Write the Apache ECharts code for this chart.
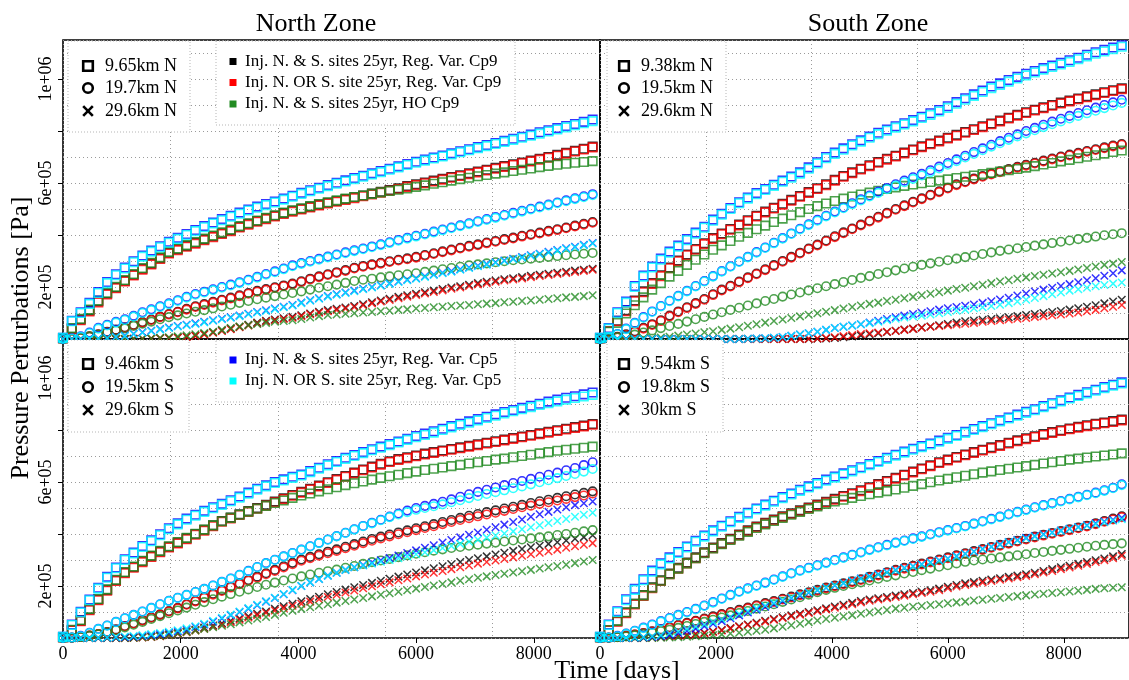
<!DOCTYPE html>
<html><head><meta charset="utf-8">
<script src="https://cdn.jsdelivr.net/npm/echarts@6/dist/echarts.min.js"></script>
<style>html,body{margin:0;padding:0;background:#fff}#c{width:1129px;height:680px}</style>
</head><body><div id="c"></div>
<script>
// ---- time axis (days) ----
const days = [0,150,300,450,600,750,900,1050,1200,1350,1500,1650,1800,1950,2100,2250,2400,2550,2700,2850,3000,3150,3300,3450,3600,3750,3900,4050,4200,4350,4500,4650,4800,4950,5100,5250,5400,5550,5700,5850,6000,6150,6300,6450,6600,6750,6900,7050,7200,7350,7500,7650,7800,7950,8100,8250,8400,8550,8700,8850,9000];

// ---- values in kPa (1e3 Pa) ----
// North Zone, N distances (top-left)
const tl_k_sq = [3,40,75,110,145,175,198,224,247,270,290,311,332,345,358,370,383,395,407,418,432,443,454,464,474,484,493,501,509,517,524,531,538,545,552,559,566,573,580,588,595,602,609,616,623,630,637,644,651,658,665,672,679,686,693,700,708,716,724,732,740];
const tl_r_sq = [3,38,72,106,141,171,195,221,244,267,287,308,329,342,355,367,380,392,404,415,429,440,451,461,471,481,490,498,506,514,521,528,535,542,549,556,563,570,577,585,592,599,606,613,620,627,634,641,648,655,662,669,676,683,690,697,705,713,721,729,737];
const tl_g_sq = [3,42,78,113,148,178,201,227,250,273,293,314,335,348,361,373,386,398,410,421,434,445,456,466,476,486,495,503,511,519,526,533,540,546,552,558,564,569,574,579,585,591,597,603,609,615,620,626,631,636,641,646,651,656,661,666,670,674,678,681,684];
const tl_b_sq = [5,70,103,139,181,219,249,275,299,321,340,357,374,389,404,419,434,448,461,474,486,498,509,519,529,540,551,562,572,582,592,601,610,619,628,637,646,655,664,673,682,690,698,706,714,722,730,738,746,754,762,770,778,786,795,803,811,819,827,835,844];
const tl_c_sq = [5,68,100,135,177,215,245,271,295,317,336,353,370,385,400,415,430,444,457,470,482,494,505,515,525,536,547,558,568,578,588,597,606,615,624,633,642,651,660,669,678,686,694,702,710,718,726,734,742,750,758,766,774,782,790,798,806,814,822,830,838];
const tl_k_ci = [0,1,4,10,18,28,36,45,55,65,75,86,96,105,116,126,134,143,151,159,168,177,185,192,199,206,213,222,232,241,249,257,265,274,281,287,293,299,305,310,316,323,330,337,344,351,358,364,371,377,384,390,397,403,409,416,422,429,436,443,450];
const tl_r_ci = [0,1,4,9,17,26,34,43,53,63,73,84,94,103,113,123,131,140,148,156,165,174,182,189,196,203,210,219,229,238,246,254,262,271,278,284,290,296,302,307,313,320,327,334,341,348,355,361,368,374,381,387,394,400,406,413,419,426,433,440,447];
const tl_g_ci = [0,1,4,9,16,25,33,41,50,59,67,76,84,91,98,105,111,118,125,132,139,146,153,159,165,171,177,183,190,197,203,209,216,223,228,232,237,241,245,249,253,258,263,268,273,278,283,287,291,295,299,303,306,309,312,316,319,322,325,328,331];
const tl_b_ci = [0,3,10,25,43,55,66,76,89,103,114,126,137,149,162,173,182,191,200,209,218,228,239,250,260,271,283,292,300,308,317,325,333,341,348,356,364,372,381,389,397,405,413,421,429,437,445,453,461,469,477,485,493,501,509,517,525,533,541,549,557];
const tl_c_ci = [0,2,8,22,40,52,63,73,86,100,111,123,134,146,159,170,179,188,197,206,215,225,236,247,257,268,280,289,297,305,314,322,330,338,345,353,361,369,378,386,394,402,410,418,426,434,442,450,458,466,474,482,490,498,506,514,522,530,538,545,553];
const tl_k_x = [0,0,0,0,0,0,0,0,1,1,2,3,4,6,9,13,19,26,33,40,47,55,63,70,75,80,85,91,98,105,111,116,121,127,134,141,148,155,162,168,174,180,186,192,198,203,209,215,220,225,230,234,238,243,247,251,255,259,263,266,270];
const tl_r_x = [0,0,0,0,0,0,0,0,1,1,2,3,4,5,8,12,17,24,31,38,45,52,60,67,72,77,82,88,95,101,107,112,117,123,130,137,144,150,157,163,169,175,181,187,193,198,204,210,215,220,225,229,233,238,242,246,250,254,258,262,266];
const tl_g_x = [0,0,0,0,0,0,0,0,0,1,2,4,7,10,14,18,23,28,35,42,48,53,58,62,66,69,72,77,83,88,92,94,97,99,102,104,107,109,112,114,117,119,122,124,127,129,131,134,136,138,141,143,146,148,151,154,157,160,162,165,168];
const tl_b_x = [0,0,0,1,2,5,9,13,20,26,32,38,44,50,55,60,66,72,78,84,90,97,104,110,117,124,131,140,149,157,165,172,179,186,193,200,207,214,221,228,234,241,248,255,261,268,275,282,288,295,302,309,315,322,328,335,342,349,355,362,369];
const tl_c_x = [0,0,0,1,2,4,8,11,18,24,30,36,42,48,53,58,64,70,76,82,88,95,102,108,115,122,129,138,147,155,163,170,177,184,191,198,205,212,219,226,232,239,246,253,259,266,273,280,286,293,300,307,313,320,326,333,340,347,353,360,367];

// South Zone, N distances (top-right)
const tr_k_sq = [3,30,70,110,148,183,215,245,275,302,325,346,368,388,406,423,440,457,474,490,505,520,535,550,565,580,595,612,627,641,655,668,681,693,705,717,729,741,752,763,774,785,796,807,818,829,840,851,862,872,882,891,900,909,917,925,933,941,949,957,964];
const tr_r_sq = [3,29,68,107,145,180,212,242,272,299,322,343,365,385,403,420,437,454,471,487,502,517,532,547,562,577,592,609,624,638,652,665,678,690,702,714,726,738,749,760,771,782,793,804,815,826,837,848,859,869,879,888,897,906,914,922,930,938,946,954,961];
const tr_g_sq = [3,28,62,98,130,160,190,215,240,262,285,305,325,343,360,377,393,408,422,436,450,463,476,488,500,511,521,531,540,548,556,563,570,577,583,589,594,599,604,609,614,619,624,629,634,639,644,649,654,659,665,671,677,683,689,695,701,707,713,719,725];
const tr_b_sq = [5,42,103,144,204,244,279,309,336,359,384,409,432,459,482,504,526,544,561,577,593,609,625,641,660,680,700,717,733,749,764,779,793,806,818,830,842,855,868,881,895,911,926,941,956,971,983,996,1008,1020,1031,1042,1052,1062,1072,1082,1093,1103,1112,1121,1130];
const tr_c_sq = [5,40,100,140,200,240,275,305,332,355,380,405,428,455,478,500,522,540,557,573,589,605,620,636,655,675,695,712,728,744,759,774,788,801,813,825,837,850,862,875,889,905,920,935,950,965,977,990,1002,1014,1025,1036,1046,1056,1066,1076,1087,1097,1106,1115,1124];
const tr_k_ci = [0,3,8,18,30,43,57,72,90,106,122,138,154,172,190,205,221,237,252,268,284,300,316,332,348,363,379,395,410,425,440,455,470,485,500,514,528,541,555,568,582,595,606,617,627,636,645,654,662,670,678,686,694,702,709,716,723,730,737,744,750];
const tr_r_ci = [0,2,6,15,27,40,54,69,87,103,119,135,151,169,187,202,218,234,249,265,281,297,313,329,345,360,376,392,407,422,437,452,467,482,497,511,525,538,552,565,579,592,603,614,624,633,642,651,659,667,675,683,691,699,706,713,720,727,734,741,747];
const tr_g_ci = [0,2,6,11,17,25,33,42,50,58,67,76,85,94,103,112,120,129,137,146,154,163,171,179,187,195,203,211,219,227,235,242,250,257,264,271,278,285,291,297,303,309,315,321,327,333,339,344,349,354,359,364,369,374,379,384,389,394,399,403,407];
const tr_b_ci = [0,5,19,40,62,84,106,127,147,166,185,204,223,242,261,280,298,316,334,352,370,388,406,424,441,458,474,490,506,522,537,552,567,581,595,609,622,635,649,663,677,691,705,719,733,747,761,774,787,800,812,824,836,847,858,869,880,890,900,910,920];
const tr_c_ci = [0,5,18,38,60,82,104,125,145,164,183,202,221,240,259,278,296,314,332,350,368,386,404,421,438,455,471,487,503,518,533,548,562,576,590,603,616,629,642,656,670,684,698,712,726,740,753,766,779,791,803,815,826,837,848,858,868,878,888,898,908];
const tr_k_x = [0,0,0,0,0,0,0,0,0,0,0,0,0,0,0,0,0,0,0,0,0,0,0,0,0,1,2,4,7,10,14,18,22,27,32,36,40,44,48,53,58,63,68,71,74,77,80,84,88,92,96,100,104,108,113,118,124,130,137,144,151];
const tr_r_x = [0,0,0,0,0,0,0,0,0,0,0,0,0,0,0,0,0,0,0,0,0,0,0,0,1,2,4,7,11,15,19,22,25,28,31,35,39,43,47,50,53,56,59,62,66,69,72,75,78,81,85,88,91,94,98,102,107,112,118,124,131];
const tr_g_x = [0,0,0,0,1,2,4,6,9,13,17,21,26,30,35,40,45,51,57,63,69,75,81,87,93,99,105,111,117,123,129,135,140,146,151,157,162,168,174,180,186,192,197,203,209,215,221,226,232,237,242,247,252,257,262,267,273,279,285,290,296];
const tr_b_x = [0,0,0,0,0,0,0,0,0,0,0,0,0,0,0,0,0,1,2,3,5,8,12,17,22,28,35,42,47,52,57,63,70,77,84,90,96,101,107,113,118,123,128,133,139,145,152,159,167,175,183,190,197,204,211,218,226,234,243,253,264];
const tr_c_x = [0,0,0,0,0,0,0,0,0,0,0,0,0,0,0,0,0,1,2,3,5,8,12,17,22,28,35,42,47,52,57,61,66,72,78,83,87,90,94,99,104,109,113,118,122,127,132,138,144,151,158,165,172,179,186,191,197,203,208,213,217];

// North Zone, S distances (bottom-left)
const bl_k_sq = [3,30,67,110,148,185,222,252,273,295,315,333,351,367,383,400,416,433,450,463,476,488,500,512,525,537,550,562,574,586,599,611,623,636,648,659,670,680,688,695,702,709,715,721,727,733,739,745,751,757,763,769,775,781,787,793,799,805,811,817,823];
const bl_r_sq = [3,29,65,107,145,182,219,249,270,292,312,330,348,364,380,397,413,430,447,460,473,485,497,509,522,534,547,559,571,583,596,608,620,633,645,656,667,677,685,692,699,706,712,718,724,730,736,742,748,754,760,766,772,778,784,790,796,802,808,814,820];
const bl_g_sq = [3,32,69,112,150,187,224,254,275,297,317,335,353,369,385,401,417,433,449,462,474,486,497,508,519,529,539,548,556,564,572,580,588,595,602,609,616,622,628,634,640,646,651,656,661,666,671,676,681,686,690,695,700,705,710,715,720,724,728,732,736];
const bl_b_sq = [5,52,101,148,193,235,271,303,329,354,376,399,422,441,459,474,489,503,516,530,544,559,574,587,600,610,620,629,642,655,668,681,693,704,715,726,736,746,756,766,777,786,795,805,815,824,833,842,851,860,869,877,885,893,901,909,917,924,930,937,944];
const bl_c_sq = [5,50,98,145,190,232,268,300,325,350,372,395,418,437,455,470,485,499,512,526,540,555,570,583,596,606,616,625,638,651,664,677,689,700,711,722,732,742,752,762,772,781,790,800,810,819,828,837,846,855,864,872,880,888,896,903,910,917,923,929,935];
const bl_k_ci = [0,1,4,9,15,23,33,46,57,69,80,91,104,116,130,143,157,170,184,197,210,223,236,249,262,276,289,302,312,322,332,341,351,361,371,381,390,398,406,414,422,430,438,446,454,462,470,477,484,491,498,505,512,519,526,532,539,545,552,558,564];
const bl_r_ci = [0,1,4,9,15,22,32,45,56,67,78,89,102,114,128,141,154,167,181,194,207,220,232,245,258,271,284,297,307,317,326,335,345,355,365,374,383,391,399,407,415,423,430,438,446,454,461,468,475,482,489,496,503,509,516,522,529,535,542,548,556];
const bl_g_ci = [0,1,4,8,14,21,30,41,51,62,73,84,95,106,117,128,138,149,159,169,178,187,196,205,213,221,229,237,244,251,257,263,270,277,285,292,298,304,311,318,324,330,336,341,346,350,355,359,363,367,371,375,379,383,387,391,396,400,405,410,415];
const bl_b_ci = [0,2,8,20,35,48,62,76,89,102,116,130,143,155,166,177,189,202,216,229,243,258,273,288,301,314,327,340,353,366,379,392,405,418,431,443,455,467,479,490,500,508,516,524,533,543,553,562,570,579,588,596,604,612,620,628,636,645,654,665,676];
const bl_c_ci = [0,2,7,19,34,47,61,75,88,101,115,129,142,154,165,176,188,201,215,228,242,257,272,287,300,313,326,339,352,365,378,391,404,417,430,441,453,465,475,484,493,500,507,514,522,530,538,546,554,561,568,576,583,591,599,607,615,623,631,640,650];
const bl_k_x = [0,0,0,0,0,0,0,0,1,3,5,9,13,18,25,32,40,48,57,66,75,84,93,102,112,122,132,141,150,159,168,177,186,195,204,212,220,228,236,244,252,260,268,276,284,292,300,307,314,321,328,335,342,349,355,362,368,375,382,388,395];
const bl_r_x = [0,0,0,0,0,0,0,0,1,2,4,7,11,16,22,29,36,44,52,61,70,79,88,97,106,115,124,132,140,149,158,166,175,183,191,199,207,214,222,229,237,244,251,258,265,272,279,286,292,298,304,310,316,322,328,334,340,347,353,359,365];
const bl_g_x = [0,0,0,0,0,0,0,0,1,3,5,8,12,17,23,29,35,41,47,53,60,67,74,81,89,97,105,112,118,124,130,136,142,148,154,160,166,172,178,184,190,196,202,208,214,220,226,232,237,242,247,252,257,262,267,272,277,282,288,294,300];
const bl_b_x = [0,0,0,0,0,1,2,3,5,8,11,15,20,26,33,42,52,63,75,88,100,113,126,140,154,168,184,200,214,227,240,251,262,272,281,290,299,308,317,327,337,347,357,367,377,387,397,406,416,426,436,446,456,466,476,485,494,503,511,518,525];
const bl_c_x = [0,0,0,0,1,2,4,6,8,11,15,19,24,30,37,45,55,66,78,90,102,115,128,141,155,169,185,200,214,227,240,251,262,272,279,286,293,300,307,314,322,330,338,346,354,362,370,378,386,394,402,410,418,426,434,442,450,458,466,474,482];

// South Zone, S distances (bottom-right)
const br_k_sq = [3,30,65,98,132,165,195,222,248,270,290,310,330,348,365,382,398,414,429,443,456,468,480,491,502,513,524,535,546,557,568,580,592,604,616,628,640,652,664,676,686,696,706,715,724,733,742,751,760,768,776,784,792,799,806,812,818,824,829,834,840];
const br_r_sq = [3,29,63,95,129,162,192,219,245,267,287,307,327,345,362,379,395,411,426,440,453,465,477,488,499,510,521,532,543,554,565,577,589,601,613,625,637,649,661,673,683,693,703,712,721,730,739,748,757,765,773,781,789,796,803,809,815,821,826,831,837];
const br_g_sq = [3,31,66,99,132,164,193,220,245,267,287,307,326,344,361,377,393,408,423,437,450,462,474,485,496,506,516,525,532,539,546,553,559,565,571,578,585,592,599,606,612,618,624,630,636,641,646,651,656,661,666,671,676,681,686,690,694,698,702,706,710];
const br_b_sq = [5,52,103,149,189,226,259,287,310,331,352,374,394,414,432,449,466,482,498,513,528,542,556,570,583,596,609,621,633,645,657,669,681,693,705,717,728,738,748,759,770,781,793,804,815,826,837,848,859,870,880,892,903,914,925,935,945,955,965,974,983];
const br_c_sq = [5,50,100,145,185,222,255,283,306,327,348,370,390,410,428,445,462,478,494,509,524,538,552,566,579,592,605,617,629,641,653,665,677,689,701,713,724,734,744,755,766,777,789,800,811,822,833,844,855,866,876,888,899,910,921,931,941,951,961,970,979];
const br_k_ci = [0,1,4,8,13,19,26,33,41,50,58,66,75,83,92,100,108,117,126,134,142,151,159,168,176,185,194,202,210,218,226,235,244,253,262,270,278,286,294,302,310,318,326,334,342,350,358,366,374,382,390,397,404,411,418,425,432,441,450,459,468];
const br_r_ci = [0,1,4,8,13,18,25,32,40,48,56,64,72,80,89,97,105,114,123,131,139,148,156,165,173,182,191,199,207,215,223,232,241,250,259,267,275,283,291,299,307,315,323,331,339,347,355,363,371,379,387,394,401,408,415,422,429,438,447,456,465];
const br_g_ci = [0,1,3,6,10,15,20,26,32,39,46,54,62,70,79,87,96,104,113,121,130,139,148,157,167,176,185,193,200,207,214,221,228,235,241,248,254,261,267,274,280,287,293,298,302,306,310,314,318,322,327,331,335,339,343,347,351,355,358,361,364];
const br_b_ci = [0,2,8,17,28,40,52,65,77,89,100,112,125,138,152,166,179,191,202,213,225,237,249,260,270,280,290,300,310,320,330,340,349,358,367,375,383,391,399,407,415,423,431,440,449,458,467,476,485,494,503,511,519,527,535,543,551,559,568,578,591];
const br_c_ci = [0,2,7,16,27,38,50,63,75,87,98,110,123,136,150,164,177,189,200,211,223,235,247,258,268,278,288,298,308,318,328,338,347,356,365,373,381,389,397,405,413,421,429,438,447,456,465,474,483,492,501,509,517,525,533,541,549,557,566,576,588];
const br_k_x = [0,0,0,0,0,1,2,4,7,9,12,16,20,25,31,38,45,52,59,66,73,80,87,93,100,107,114,121,128,135,142,148,153,158,163,168,173,178,184,190,197,204,210,215,220,225,230,235,240,245,251,258,265,272,278,285,292,299,306,314,323];
const br_r_x = [0,0,0,0,0,1,2,4,6,8,11,14,18,23,29,36,43,50,56,63,70,77,84,90,96,103,110,116,123,130,137,143,148,153,158,163,168,173,178,184,191,198,204,209,214,219,224,229,234,239,245,252,258,265,271,278,285,292,299,307,316];
const br_g_x = [0,0,0,0,0,0,0,1,2,3,5,7,9,11,14,17,20,24,28,32,37,43,49,55,61,67,73,78,83,88,93,98,103,108,113,116,120,123,127,130,134,137,140,144,147,151,154,158,161,164,167,170,173,176,179,182,185,189,191,193,195];
const br_b_x = [0,0,0,0,1,2,4,7,12,19,27,36,45,55,65,76,87,98,109,120,131,142,153,164,174,184,193,202,211,220,229,237,245,253,261,269,276,284,291,299,306,315,324,333,342,351,360,369,377,385,392,399,406,413,420,427,434,441,448,455,462];
const br_c_x = [0,0,0,1,2,4,7,11,18,26,35,44,53,62,72,82,93,104,114,125,135,146,156,167,176,185,194,203,211,220,228,236,244,252,260,268,275,283,290,298,305,314,323,332,341,350,359,368,375,383,390,397,405,412,419,426,432,438,445,451,457];

// ---- texts ----
const panelTitles = ['North Zone', 'South Zone'];
const xTickValues = [0, 2000, 4000, 6000, 8000];
const yTickValues = [200, 400, 600, 800, 1000];
const yLabelValues = [200, 600, 1000];
const distTL = ['9.65km N', '19.7km N', '29.6km N'];
const distTR = ['9.38km N', '19.5km N', '29.6km N'];
const distBL = ['9.46km S', '19.5km S', '29.6km S'];
const distBR = ['9.54km S', '19.8km S', '30km S'];
const caseLabelsCp9 = ['Inj. N. & S. sites 25yr, Reg. Var. Cp9', 'Inj. N. OR S. site 25yr, Reg. Var. Cp9', 'Inj. N. & S. sites 25yr, HO Cp9'];
const caseLabelsCp5 = ['Inj. N. & S. sites 25yr, Reg. Var. Cp5', 'Inj. N. OR S. site 25yr, Reg. Var. Cp5'];

const FONT = '"Liberation Serif", "Times New Roman", serif';
const COL = { k: '#000000', r: '#ff0000', g: '#228b22', b: '#0000ff', c: '#00ffff' };
const CROSS = 'path://M0,0L10,10M10,0L0,10';

const panelData = [
  { k: [tl_k_sq, tl_k_ci, tl_k_x], r: [tl_r_sq, tl_r_ci, tl_r_x], g: [tl_g_sq, tl_g_ci, tl_g_x], b: [tl_b_sq, tl_b_ci, tl_b_x], c: [tl_c_sq, tl_c_ci, tl_c_x] },
  { k: [tr_k_sq, tr_k_ci, tr_k_x], r: [tr_r_sq, tr_r_ci, tr_r_x], g: [tr_g_sq, tr_g_ci, tr_g_x], b: [tr_b_sq, tr_b_ci, tr_b_x], c: [tr_c_sq, tr_c_ci, tr_c_x] },
  { k: [bl_k_sq, bl_k_ci, bl_k_x], r: [bl_r_sq, bl_r_ci, bl_r_x], g: [bl_g_sq, bl_g_ci, bl_g_x], b: [bl_b_sq, bl_b_ci, bl_b_x], c: [bl_c_sq, bl_c_ci, bl_c_x] },
  { k: [br_k_sq, br_k_ci, br_k_x], r: [br_r_sq, br_r_ci, br_r_x], g: [br_g_sq, br_g_ci, br_g_x], b: [br_b_sq, br_b_ci, br_b_x], c: [br_c_sq, br_c_ci, br_c_x] }
];

const grids = [
  { left: 63, top: 40, width: 537, height: 299 },
  { left: 600, top: 40, width: 537, height: 299 },
  { left: 63, top: 339, width: 537, height: 299 },
  { left: 600, top: 339, width: 537, height: 299 }
].map(g => Object.assign(g, { show: true, borderColor: '#000', borderWidth: 1.6, backgroundColor: 'transparent', containLabel: false }));

function sci(v) {
  const e = Math.floor(Math.log10(v));
  const m = Math.round(v / Math.pow(10, e));
  return m + 'e+' + (e < 10 ? '0' : '') + e;
}

const dotted = { type: [1, 3], color: '#9a9a9a', width: 1 };
const xAxes = [], yAxes = [];
for (let p = 0; p < 4; p++) {
  const bottom = p >= 2, left = p % 2 === 0;
  xAxes.push({
    gridIndex: p, type: 'value', min: 0, max: 9125, position: 'bottom',
    axisLine: { show: false }, splitLine: { show: false },
    axisTick: { show: bottom, customValues: xTickValues, length: 5, lineStyle: { color: '#000', width: 1 } },
    axisLabel: { show: bottom, customValues: xTickValues, fontSize: 18, fontFamily: FONT, color: '#000', margin: 7, formatter: v => String(v) }
  });
  xAxes.push({
    gridIndex: p, type: 'value', min: 0, max: 9125, interval: 1825, position: 'top',
    axisLine: { show: false }, axisTick: { show: false }, axisLabel: { show: false },
    splitLine: { show: true, lineStyle: dotted }
  });
  yAxes.push({
    gridIndex: p, type: 'value', min: 0, max: 1150, position: 'left',
    axisLine: { show: false }, splitLine: { show: false },
    axisTick: { show: left, customValues: yTickValues, length: 5, lineStyle: { color: '#000', width: 1 } },
    axisLabel: { show: left, customValues: yLabelValues, rotate: 90, fontSize: 18, fontFamily: FONT, color: '#000', margin: 8, formatter: v => sci(v * 1000) }
  });
  yAxes.push({
    gridIndex: p, type: 'value', min: 0, max: 1150, interval: 100, position: 'right',
    axisLine: { show: false }, axisTick: { show: false }, axisLabel: { show: false },
    splitLine: { show: true, lineStyle: dotted }
  });
}

const shapes = [
  { symbol: 'rect', size: 8.5, bw: 1.6 },
  { symbol: 'circle', size: 8.5, bw: 1.6 },
  { symbol: CROSS, size: 7.5, bw: 1.5 }
];
const series = [];
panelData.forEach((pd, p) => {
  ['k', 'r', 'g', 'b', 'c'].forEach(ck => {
    pd[ck].forEach((vals, si) => {
      series.push({
        type: 'scatter', xAxisIndex: 2 * p, yAxisIndex: 2 * p, silent: true, clip: false,
        symbol: shapes[si].symbol, symbolSize: shapes[si].size,
        itemStyle: { color: 'transparent', borderColor: COL[ck], borderWidth: shapes[si].bw },
        data: days.map((d, i) => [d, vals[i]])
      });
    });
  });
});

// ---- graphics: titles and legends ----
const gfx = [];
function txt(x, y, s, size, align, rot) {
  gfx.push({ type: 'text', x: x, y: y, rotation: rot || 0, z: 100,
    style: { text: s, font: size + 'px ' + FONT, fill: '#000', textAlign: align || 'left', textVerticalAlign: 'middle' } });
}
function box(x, y, w, h) {
  gfx.push({ type: 'rect', z: 90, shape: { x: x, y: y, width: w, height: h },
    style: { fill: '#fff', stroke: '#b5b5b5', lineWidth: 1, lineDash: [1, 2] } });
}
function distLegend(x, y, w, h, sx, tx, rows, labels) {
  box(x, y, w, h);
  const s = 4.8;
  gfx.push({ type: 'rect', z: 100, shape: { x: sx - s, y: rows[0] - s, width: 2 * s, height: 2 * s }, style: { fill: 'none', stroke: '#000', lineWidth: 2.6 } });
  gfx.push({ type: 'circle', z: 100, shape: { cx: sx, cy: rows[1], r: s }, style: { fill: 'none', stroke: '#000', lineWidth: 2.6 } });
  gfx.push({ type: 'line', z: 100, shape: { x1: sx - s, y1: rows[2] - s, x2: sx + s, y2: rows[2] + s }, style: { stroke: '#000', lineWidth: 2.6 } });
  gfx.push({ type: 'line', z: 100, shape: { x1: sx + s, y1: rows[2] - s, x2: sx - s, y2: rows[2] + s }, style: { stroke: '#000', lineWidth: 2.6 } });
  labels.forEach((l, i) => txt(tx, rows[i], l, 18, 'left'));
}
function caseLegend(x, y, w, h, rows, cols, labels) {
  box(x, y, w, h);
  labels.forEach((l, i) => {
    gfx.push({ type: 'rect', z: 100, shape: { x: 229.5, y: rows[i] - 3.5, width: 7, height: 7 }, style: { fill: cols[i] } });
    txt(245, rows[i], l, 17, 'left');
  });
}
txt(316, 24, panelTitles[0], 26, 'center');
txt(868, 24, panelTitles[1], 26, 'center');
txt(21, 338, 'Pressure Perturbations [Pa]', 26, 'center', Math.PI / 2);
txt(617, 671, 'Time [days]', 26, 'center');
distLegend(68, 41, 122, 91, 88, 105, [66, 88, 111], distTL);
distLegend(607, 41, 119, 91, 624, 641, [66, 88, 111], distTR);
distLegend(68, 340, 121, 92, 88, 105, [364, 387, 410], distBL);
distLegend(607, 340, 116, 92, 624, 641, [364, 387, 410], distBR);
caseLegend(216, 41, 299, 84, [61.5, 82.5, 104], [COL.k, COL.r, COL.g], caseLabelsCp9);
caseLegend(216, 340, 299, 62, [360, 381], [COL.b, COL.c], caseLabelsCp5);

const chart = echarts.init(document.getElementById('c'), null, { renderer: 'canvas' });
chart.setOption({
  animation: false,
  backgroundColor: '#fff',
  textStyle: { fontFamily: FONT },
  grid: grids,
  xAxis: xAxes,
  yAxis: yAxes,
  series: series,
  graphic: { elements: gfx }
});
</script>
</body></html>
